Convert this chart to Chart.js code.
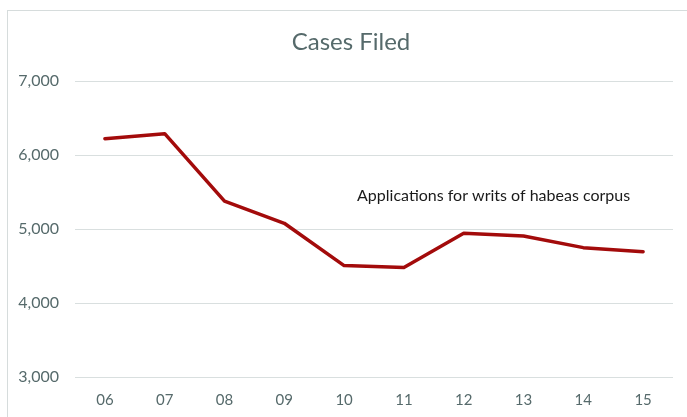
<!DOCTYPE html>
<html>
<head>
<meta charset="utf-8">
<script src="https://cdn.jsdelivr.net/npm/chart.js@4"></script>
<style>
  html, body { margin: 0; padding: 0; background: #fff; overflow: hidden; }
  #frame { position: absolute; left: 7px; top: 10px; width: 720px; height: 440px; border: 1px solid #d6dcdc; box-sizing: border-box; }
  #wrap { position: absolute; left: 0; top: 0; width: 687px; height: 417px; }
</style>
</head>
<body>
<div id="frame"></div>
<div id="wrap"><canvas id="c" width="687" height="417"></canvas></div>
<script>
const categories = ['06', '07', '08', '09', '10', '11', '12', '13', '14', '15'];
const casesFiled = [6221, 6288, 5377, 5077, 4506, 4479, 4942, 4906, 4748, 4694];
const yTicks = [3000, 4000, 5000, 6000, 7000];
const chartTitle = 'Cases Filed';
const seriesLabel = 'Applications for writs of habeas corpus';

const textPlugin = {
  id: 'texts',
  afterDatasetsDraw(chart) {
    const { ctx, scales, chartArea } = chart;
    ctx.save();
    // title, centred over the chart frame
    ctx.font = '24px Lato';
    ctx.fillStyle = '#566a6b';
    ctx.textAlign = 'center';
    ctx.textBaseline = 'middle';
    ctx.fillText(chartTitle, (chartArea.left + chartArea.right) / 2 - 23, 42);
    // series label
    const x = (scales.x.getPixelForValue(6) + scales.x.getPixelForValue(7)) / 2;
    const y = scales.y.getPixelForValue(5444);
    ctx.font = '16px Lato';
    ctx.fillStyle = '#1a1a1a';
    ctx.fillText(seriesLabel, x, y);
    ctx.restore();
  }
};

new Chart(document.getElementById('c'), {
  type: 'line',
  data: {
    labels: categories,
    datasets: [{
      label: seriesLabel,
      data: casesFiled,
      borderColor: '#a30b0b',
      borderWidth: 3.5,
      pointRadius: 0,
      tension: 0,
      fill: false,
      borderJoinStyle: 'round',
      borderCapStyle: 'round'
    }]
  },
  options: {
    responsive: false,
    animation: false,
    devicePixelRatio: 1,
    layout: { padding: { left: 0, right: 14, top: 81, bottom: 9 } },
    plugins: {
      legend: { display: false },
      tooltip: { enabled: false },
      title: { display: false }
    },
    scales: {
      x: {
        offset: true,
        afterFit(scale) { scale.height = 31; },
        grid: { display: false, drawTicks: false },
        border: { display: false },
        ticks: { color: '#566a6b', font: { family: 'Lato', size: 15 }, padding: 14, maxRotation: 0 }
      },
      y: {
        min: 3000,
        max: 7000,
        afterBuildTicks(scale) { scale.ticks = yTicks.map(v => ({ value: v })); },
        afterFit(scale) { scale.width = 75; },
        grid: { color: '#d9dfdf', lineWidth: 1, drawTicks: false },
        border: { display: false },
        ticks: {
          color: '#566a6b',
          font: { family: 'Lato', size: 16 },
          padding: 16,
          callback: v => v.toLocaleString('en-US')
        }
      }
    }
  },
  plugins: [textPlugin]
});
</script>
</body>
</html>
